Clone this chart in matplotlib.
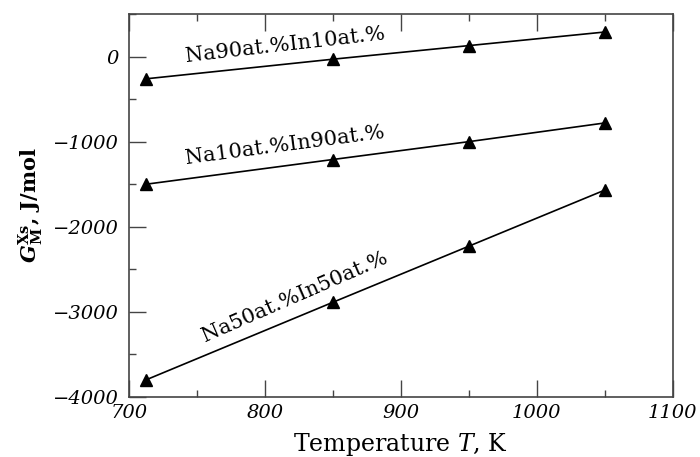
import matplotlib
matplotlib.use("Agg")
import matplotlib.pyplot as plt
from matplotlib.ticker import MultipleLocator

plt.rcParams['font.family'] = ['DejaVu Serif']
plt.rcParams['mathtext.fontset'] = 'dejavuserif'

temps = [713, 850, 950, 1050]
g_na90 = [-260, -30, 130, 290]
g_na10 = [-1500, -1210, -1000, -780]
g_na50 = [-3800, -2890, -2230, -1570]

labels = ["Na90at.%In10at.%", "Na10at.%In90at.%", "Na50at.%In50at.%"]
label_pos = [(815, 140, 6.5), (815, -1040, 7.5), (822, -2830, 23.5)]

xticks = [700, 800, 900, 1000, 1100]
yticks = [-4000, -3000, -2000, -1000, 0]

fig = plt.figure(figsize=(7, 4.57), dpi=100)
ax = fig.add_axes([0.184, 0.132, 0.777, 0.837])

for ys in (g_na90, g_na10, g_na50):
    ax.plot(temps, ys, color='black', lw=1.2, marker='^', markersize=8)

for lab, (x, y, r) in zip(labels, label_pos):
    ax.text(x, y, lab, rotation=r, ha='center', va='center', fontsize=15,
            rotation_mode='anchor')

ax.set_xlim(700, 1100)
ax.set_ylim(-4000, 500)
ax.set_xticks(xticks)
ax.set_yticks(yticks)
ax.set_xticklabels([str(v) for v in xticks], fontstyle='italic', fontsize=14)
ax.set_yticklabels([str(v).replace('-', '\u2212') for v in yticks], fontstyle='italic', fontsize=14)
ax.xaxis.set_minor_locator(MultipleLocator(50))
ax.yaxis.set_minor_locator(MultipleLocator(500))
ax.tick_params(which='both', direction='in', top=True, right=False, color='#444444')
ax.tick_params(which='major', length=12, width=1)
ax.tick_params(which='minor', length=5, width=1)
ax.tick_params(axis='x', pad=5)
ax.tick_params(axis='y', pad=7)
for s in ax.spines.values():
    s.set_color('#444444')
    s.set_linewidth(1.2)

ax.set_xlabel(r'Temperature $T$, K', fontsize=17, labelpad=7)
ax.set_ylabel(r'$\mathbfit{G}_{\mathbf{M}}^{\mathbf{Xs}}$, J/mol', fontsize=15, fontweight='bold', labelpad=6)

fig.savefig('out.png', dpi=100)
